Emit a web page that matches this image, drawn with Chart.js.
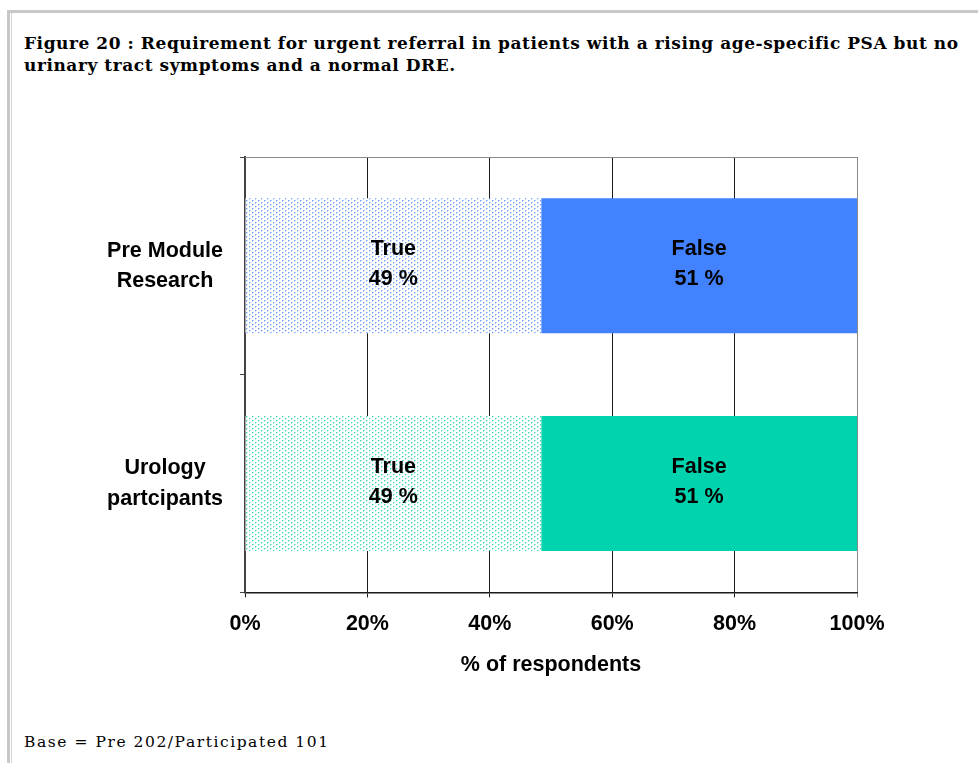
<!DOCTYPE html>
<html>
<head>
<meta charset="utf-8">
<script src="https://cdn.jsdelivr.net/npm/chart.js@4"></script>
<style>
  html, body { margin: 0; padding: 0; background: #fff; }
  body { width: 978px; height: 763px; position: relative; overflow: hidden; }
  #frame { position: absolute; left: 7px; top: 10px; right: 0; bottom: 0;
           border-top: 3px solid #c8c8c8; border-left: 3px solid #c8c8c8; }
  #frame2 { position: absolute; left: 11px; top: 13px; bottom: 0; width: 1px; background: #d4d4d4; }
  #title { position: absolute; left: 24px; top: 32px; font-family: "DejaVu Serif", serif;
           font-weight: bold; font-size: 17px; letter-spacing: 0.55px; line-height: 22px; color: #000; white-space: nowrap; }
  #foot { position: absolute; left: 24px; top: 733px; font-family: "DejaVu Serif", serif;
          font-size: 15.5px; letter-spacing: 1.55px; color: #000; white-space: nowrap; }
  #c { position: absolute; left: 0; top: 0; }
</style>
</head>
<body>
<div id="frame"></div>
<div id="frame2"></div>
<div id="title">Figure 20 : Requirement for urgent referral in patients with a rising age-specific PSA but no<br>urinary tract symptoms and a normal DRE.</div>
<div id="foot">Base = Pre 202/Participated 101</div>
<canvas id="c" width="978" height="763"></canvas>
<script>
// ---- data ----
const categories = [["Pre Module", "Research"], ["Urology", "partcipants"]];
const seriesNames = ["True", "False"];
const trueValues = [48.4, 48.4];
const falseValues = [51.6, 51.6];
const trueLabels = [49, 49];
const falseLabels = [51, 51];
const xTicks = [0, 20, 40, 60, 80, 100];

// ---- styles ----
const solidColors = ["#4282ff", "#00d3ae"];
const dotColors = ["#6f9cf6", "#3fd8b6"];

function makePattern(color) {
  const t = document.createElement("canvas");
  t.width = 6; t.height = 4;
  const g = t.getContext("2d");
  g.fillStyle = "#ffffff"; g.fillRect(0, 0, 6, 4);
  g.fillStyle = color;
  g.fillRect(0, 0, 1, 1);
  g.fillRect(3, 2, 1, 1);
  g.globalAlpha = 0.45;
  g.fillRect(1, 0, 1, 1);
  g.fillRect(4, 2, 1, 1);
  g.fillRect(0, 1, 1, 1);
  g.fillRect(3, 3, 1, 1);
  return document.getElementById("c").getContext("2d").createPattern(t, "repeat");
}
const patterns = dotColors.map(makePattern);

const FS = 21.5;
const labelFont = { family: "'Liberation Sans', Arial, sans-serif", size: FS, weight: "bold" };

const barLabelPlugin = {
  id: "barLabels",
  afterDatasetsDraw(chart) {
    const ctx = chart.ctx;
    ctx.save();
    ctx.font = "bold " + FS + "px 'Liberation Sans', Arial, sans-serif";
    ctx.fillStyle = "#000";
    ctx.textAlign = "center";
    ctx.textBaseline = "middle";
    chart.data.datasets.forEach((ds, di) => {
      const meta = chart.getDatasetMeta(di);
      meta.data.forEach((el, i) => {
        const p = el.getCenterPoint();
        ctx.fillText(ds.label, p.x, p.y - 16.5);
        ctx.fillText(ds.pct[i] + " %", p.x, p.y + 13.5);
      });
    });
    ctx.restore();
  }
};

const frameTopPlugin = {
  id: "frameTop",
  afterDraw(chart) {
    const a = chart.chartArea, ctx = chart.ctx;
    ctx.save();
    ctx.strokeStyle = "#8a8a8a";
    ctx.lineWidth = 1;
    ctx.beginPath();
    ctx.moveTo(a.left, a.top + 0.5);
    ctx.lineTo(a.right, a.top + 0.5);
    ctx.stroke();
    ctx.restore();
  }
};

new Chart(document.getElementById("c"), {
  type: "bar",
  data: {
    labels: categories,
    datasets: [
      { label: seriesNames[0], data: trueValues, pct: trueLabels, backgroundColor: patterns,
        borderWidth: 0, categoryPercentage: 1, barPercentage: 0.62 },
      { label: seriesNames[1], data: falseValues, pct: falseLabels, backgroundColor: solidColors,
        borderWidth: 0, categoryPercentage: 1, barPercentage: 0.62 }
    ]
  },
  options: {
    indexAxis: "y",
    responsive: false,
    animation: false,
    layout: { padding: { top: 157, right: 121, bottom: 85, left: 0 } },
    plugins: { legend: { display: false }, tooltip: { enabled: false } },
    scales: {
      x: {
        stacked: true,
        min: 0, max: 100,
        afterBuildTicks(scale) { scale.ticks = xTicks.map(v => ({ value: v })); },
        ticks: { callback: v => v + "%", color: "#000", font: labelFont, padding: 14, maxRotation: 0 },
        grid: {
          color: ctx => (ctx.tick && ctx.tick.value === 100) ? "#8a8a8a" : "#1a1a1a",
          lineWidth: 1, tickLength: 5, drawTicks: true
        },
        border: { color: "#1a1a1a", width: 1.5 },
        title: { display: true, text: "% of respondents", color: "#000", font: labelFont,
                 padding: { top: 1, bottom: 0 } }
      },
      y: {
        stacked: true,
        afterFit(scale) { scale.width = 245; },
        ticks: { color: "#000", font: Object.assign({}, labelFont, { lineHeight: 1.4 }),
                 crossAlign: "center", padding: 17 },
        grid: { drawOnChartArea: false, drawTicks: true, tickLength: 5, offset: true, color: "#444" },
        border: { color: "#444", width: 2 }
      }
    }
  },
  plugins: [barLabelPlugin, frameTopPlugin]
});
</script>
</body>
</html>
